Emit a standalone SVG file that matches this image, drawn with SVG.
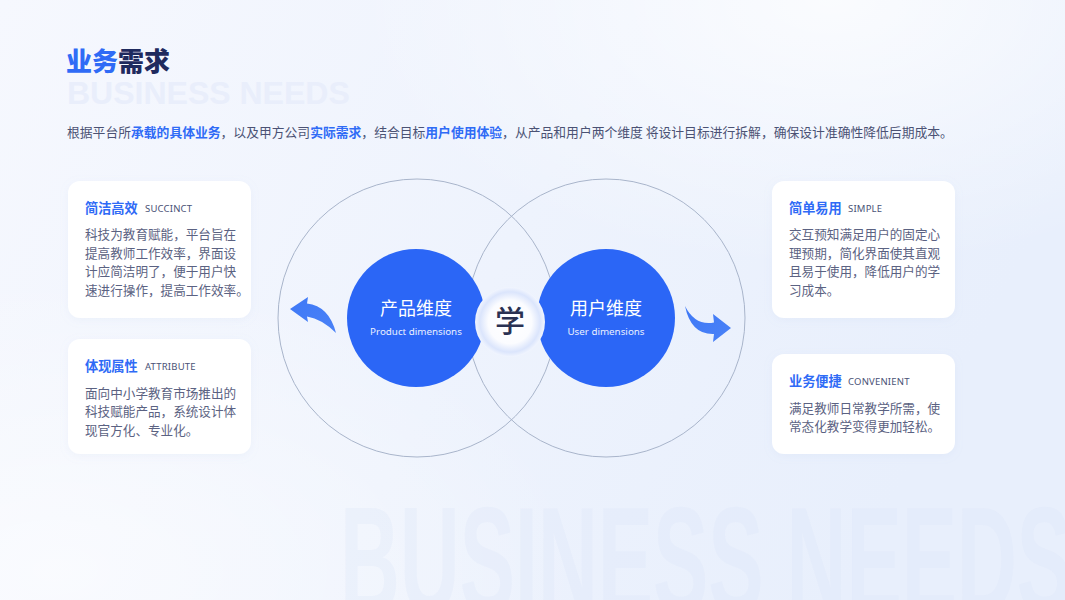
<svg xmlns="http://www.w3.org/2000/svg" width="1065" height="600" viewBox="0 0 1065 600">
  <defs>
    <linearGradient id="bg" x1="0" y1="0" x2="1" y2="0.3">
      <stop offset="0" stop-color="#f6f8fe"/>
      <stop offset="0.55" stop-color="#eef3fd"/>
      <stop offset="1" stop-color="#e8effc"/>
    </linearGradient>
    <radialGradient id="glowTR" cx="0.78" cy="0" r="0.45">
      <stop offset="0" stop-color="#ffffff" stop-opacity="0.75"/>
      <stop offset="1" stop-color="#ffffff" stop-opacity="0"/>
    </radialGradient>
    <radialGradient id="glowBL" cx="0.05" cy="0.95" r="0.5">
      <stop offset="0" stop-color="#ffffff" stop-opacity="0.6"/>
      <stop offset="1" stop-color="#ffffff" stop-opacity="0"/>
    </radialGradient>
    <radialGradient id="xue" cx="0.5" cy="0.5" r="0.5">
      <stop offset="0" stop-color="#ffffff"/>
      <stop offset="0.62" stop-color="#fbfcff"/>
      <stop offset="0.86" stop-color="#dbe5fc"/>
      <stop offset="1" stop-color="#f1f5fe"/>
    </radialGradient>
    <linearGradient id="arrowL" x1="0" y1="0" x2="1" y2="1">
      <stop offset="0" stop-color="#3e78f6"/>
      <stop offset="1" stop-color="#4a82f7"/>
    </linearGradient>
    <filter id="cardShadow" x="-10%" y="-10%" width="120%" height="130%">
      <feDropShadow dx="0" dy="2" stdDeviation="4" flood-color="#9fb4e0" flood-opacity="0.1"/>
    </filter>
  </defs>
  <style>
    .cjk { font-family: "Noto Sans CJK SC", "Noto Sans", sans-serif; }
    .card { fill: #ffffff; filter: url(#cardShadow); }
    .ctitle { font-family: "Noto Sans CJK SC", sans-serif; font-size: 13.2px; font-weight: 600; fill: #2f6bf6; }
    .ctag { font-family: "Noto Sans", "Noto Sans CJK SC", sans-serif; font-size: 9.5px; fill: #4a5276; letter-spacing: 0.2px; }
    .cbody { font-family: "Noto Sans CJK SC", sans-serif; font-size: 12.6px; fill: #5b6282; }
    .ring { fill: none; stroke: #a9b5cb; stroke-width: 1; }
    .blue { fill: #2b66f6; }
    .ntitle { font-family: "Noto Sans CJK SC", sans-serif; font-size: 18px; fill: #ffffff; text-anchor: middle; }
    .nsub { font-family: "Noto Sans", sans-serif; font-size: 9.8px; fill: #eaf0ff; text-anchor: middle; }
    .hl { fill: #2f6bf6; font-weight: 600; }
  </style>

  <rect width="1065" height="600" fill="url(#bg)"/>
  <rect width="1065" height="600" fill="url(#glowTR)"/>
  <rect width="1065" height="600" fill="url(#glowBL)"/>

  <!-- bottom watermark -->
  <text x="340" y="612" font-family="Liberation Sans, sans-serif" font-weight="700" font-size="150" fill="#dbe5fa" fill-opacity="0.3" textLength="732" lengthAdjust="spacingAndGlyphs">BUSINESS NEEDS</text>

  <!-- title -->
  <g id="title">
    <text x="67" y="104" font-family="Liberation Sans, sans-serif" font-weight="700" font-size="32" fill="#e9eefb">BUSINESS NEEDS</text>
    <text x="66" y="71" class="cjk" font-size="26" font-weight="900"><tspan fill="#2f6bf6">业务</tspan><tspan fill="#1f2a5e">需求</tspan></text>
  </g>

  <g id="description">
    <text x="67" y="137" class="cjk" font-size="12.8" fill="#4b5274">根据平台所<tspan class="hl">承载的具体业务</tspan>，以及甲方公司<tspan class="hl">实际需求</tspan>，结合目标<tspan class="hl">用户使用体验</tspan>，从产品和用户两个维度 将设计目标进行拆解，确保设计准确性降低后期成本。</text>
  </g>

  <!-- venn rings -->
  <g id="rings">
    <circle class="ring" cx="417" cy="318" r="139"/>
    <circle class="ring" cx="606" cy="318" r="139"/>
  </g>

  <g id="node-product">
    <circle class="blue" cx="416" cy="318" r="69"/>
    <text class="ntitle" x="416" y="315">产品维度</text>
    <text class="nsub" x="416" y="335">Product dimensions</text>
  </g>

  <g id="node-user">
    <circle class="blue" cx="606" cy="318" r="69"/>
    <text class="ntitle" x="606" y="315">用户维度</text>
    <text class="nsub" x="606" y="335">User dimensions</text>
  </g>

  <g id="node-xue">
    <circle cx="510" cy="322" r="35" fill="url(#xue)"/>
    <text x="510" y="332" class="cjk" font-size="30" font-weight="500" fill="#2a3152" text-anchor="middle">学</text>
  </g>

  <g id="connectors">
    <path d="M290,309 L308,297 L307,303.5 Q329,306 336,333 Q322,319 307,316.5 L308,322 Z" fill="url(#arrowL)"/>
    <path d="M685,306 Q695,326 714,322.5 L713,314 L731,328 L713,342 L714,334 Q691,335 685,306 Z" fill="url(#arrowL)"/>
  </g>

  <g id="card-succinct">
    <rect class="card" x="68" y="181" width="183" height="137" rx="12"/>
    <text class="ctitle" x="85" y="213">简洁高效</text>
    <text class="ctag" x="145" y="212">SUCCINCT</text>
    <text class="cbody" x="85" y="239">科技为教育赋能，平台旨在</text>
    <text class="cbody" x="85" y="257.5">提高教师工作效率，界面设</text>
    <text class="cbody" x="85" y="276">计应简洁明了，便于用户快</text>
    <text class="cbody" x="85" y="294.5">速进行操作，提高工作效率。</text>
  </g>

  <g id="card-attribute">
    <rect class="card" x="68" y="339" width="183" height="115" rx="12"/>
    <text class="ctitle" x="85" y="371">体现属性</text>
    <text class="ctag" x="145" y="370">ATTRIBUTE</text>
    <text class="cbody" x="85" y="397.5">面向中小学教育市场推出的</text>
    <text class="cbody" x="85" y="416">科技赋能产品，系统设计体</text>
    <text class="cbody" x="85" y="434.5">现官方化、专业化。</text>
  </g>

  <g id="card-simple">
    <rect class="card" x="772" y="181" width="183" height="137" rx="12"/>
    <text class="ctitle" x="789" y="213">简单易用</text>
    <text class="ctag" x="848" y="212">SIMPLE</text>
    <text class="cbody" x="789" y="239">交互预知满足用户的固定心</text>
    <text class="cbody" x="789" y="257.5">理预期，简化界面使其直观</text>
    <text class="cbody" x="789" y="276">且易于使用，降低用户的学</text>
    <text class="cbody" x="789" y="294.5">习成本。</text>
  </g>

  <g id="card-convenient">
    <rect class="card" x="772" y="354" width="183" height="100" rx="12"/>
    <text class="ctitle" x="789" y="386">业务便捷</text>
    <text class="ctag" x="848" y="385">CONVENIENT</text>
    <text class="cbody" x="789" y="412.5">满足教师日常教学所需，使</text>
    <text class="cbody" x="789" y="431">常态化教学变得更加轻松。</text>
  </g>
</svg>
